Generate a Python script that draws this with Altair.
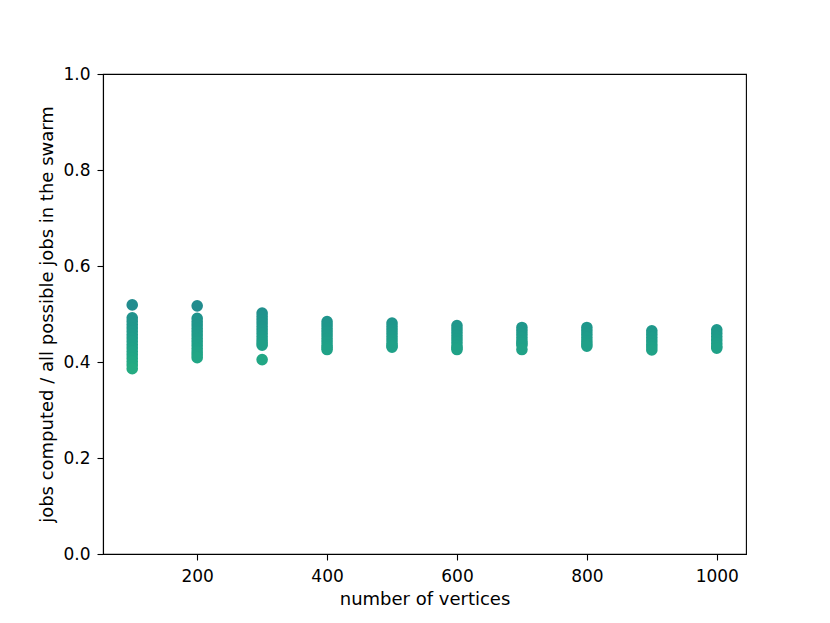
import altair as alt
import pandas as pd

vertices = [100, 200, 300, 400, 500, 600, 700, 800, 900, 1000]

ratios_100 = [0.519, 0.492, 0.485, 0.478, 0.471, 0.464, 0.457, 0.450, 0.443, 0.436,
              0.429, 0.422, 0.415, 0.408, 0.401, 0.394, 0.386]
ratios_200 = [0.517, 0.491, 0.484, 0.477, 0.470, 0.463, 0.456, 0.449, 0.442, 0.435,
              0.428, 0.421, 0.415, 0.409]
ratios_300 = [0.502, 0.495, 0.488, 0.481, 0.474, 0.467, 0.460, 0.453, 0.446, 0.440,
              0.435, 0.405]
ratios_400 = [0.484, 0.477, 0.470, 0.463, 0.456, 0.449, 0.442, 0.435, 0.430, 0.426]
ratios_500 = [0.481, 0.474, 0.467, 0.460, 0.453, 0.446, 0.439, 0.434, 0.431]
ratios_600 = [0.476, 0.469, 0.462, 0.455, 0.448, 0.441, 0.434, 0.429, 0.426]
ratios_700 = [0.472, 0.465, 0.458, 0.451, 0.444, 0.439, 0.435, 0.426]
ratios_800 = [0.472, 0.465, 0.458, 0.451, 0.444, 0.438, 0.433]
ratios_900 = [0.465, 0.458, 0.451, 0.444, 0.437, 0.431, 0.425]
ratios_1000 = [0.467, 0.460, 0.453, 0.446, 0.439, 0.433, 0.429]

all_ratios = [ratios_100, ratios_200, ratios_300, ratios_400, ratios_500,
              ratios_600, ratios_700, ratios_800, ratios_900, ratios_1000]

rows = []
for v, rs in zip(vertices, all_ratios):
    for r in rs:
        rows.append({"vertices": v, "ratio": r})
df = pd.DataFrame(rows)

FONT = "DejaVu Sans"

chart = alt.Chart(df).mark_circle(size=135, opacity=1).encode(
    x=alt.X("vertices:Q",
            scale=alt.Scale(domain=[55, 1045], nice=False, zero=False),
            axis=alt.Axis(title="number of vertices", values=[200, 400, 600, 800, 1000],
                          format="d", grid=False, labelPadding=8, titlePadding=6)),
    y=alt.Y("ratio:Q",
            scale=alt.Scale(domain=[0, 1], nice=False),
            axis=alt.Axis(title="jobs computed / all possible jobs in the swarm",
                          values=[0, 0.2, 0.4, 0.6, 0.8, 1.0], format=".1f", grid=False,
                          labelPadding=7, titlePadding=6)),
    color=alt.Color("ratio:Q",
                    scale=alt.Scale(scheme="viridis", domain=[0, 1], reverse=True),
                    legend=None),
).properties(
    width=643,
    height=480,
    autosize=alt.AutoSizeParams(type="none"),
    padding={"left": 95, "top": 66, "right": 40, "bottom": 60},
).configure_view(
    stroke="black", strokeWidth=1.1
).configure_axis(
    domainColor="black", domainWidth=1.1,
    tickColor="black", tickWidth=1.1, tickSize=6,
    labelFont=FONT, labelFontSize=17, labelColor="black",
    titleFont=FONT, titleFontSize=18, titleFontWeight="normal", titleColor="black",
)

chart.save("out.html", embed_options={"renderer": "svg", "actions": False})
